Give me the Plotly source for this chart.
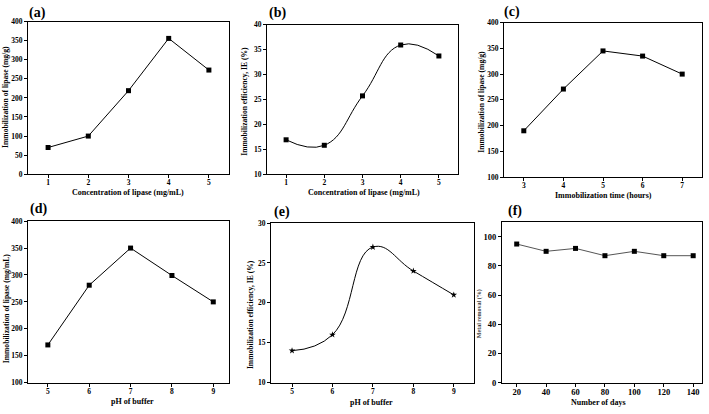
import plotly.graph_objects as go

# ---- data ----
a_x = [1, 2, 3, 4, 5]
a_y = [70, 100, 219, 356, 273]

b_x = [1, 2, 3, 4, 5]
b_y = [16.9, 15.8, 25.7, 35.9, 33.7]

c_x = [3, 4, 5, 6, 7]
c_y = [190, 271, 345, 335, 300]

d_x = [5, 6, 7, 8, 9]
d_y = [170, 281, 350, 299, 250]

e_x = [5, 6, 7, 8, 9]
e_y = [14, 16, 27, 24, 21]

f_x = [20, 40, 60, 80, 100, 120, 140]
f_y = [95, 90, 92, 87, 90, 87, 87]

W, H = 709, 414
FONT = "Liberation Serif"


def dx(p0, p1):
    return [p0 / W, p1 / W]


def dy(top, bottom):
    return [1 - bottom / H, 1 - top / H]


panels = [
    dict(x=a_x, y=a_y, shape="linear", sym="square", color="black",
         xd=(28, 229), yd=(18, 174), xr=[0.5, 5.5], xt=[1, 2, 3, 4, 5],
         yr=[0, 400], yt=list(range(0, 401, 50)),
         xtitle="Concentration of lipase (mg/mL)", ytitle="Immobilization of lipase (mg/g)",
         label="(a)", lab=(37, 9), xtp=(128, 193), ytp=(6, 95), fs=7.5),
    dict(x=b_x, y=b_y, shape="spline", sym="square", color="black",
         xd=(267, 458), yd=(21, 174), xr=[0.5, 5.5], xt=[1, 2, 3, 4, 5],
         yr=[10, 40], yt=list(range(10, 41, 5)),
         xtitle="Concentration of lipase (mg/mL)", ytitle="Immobilization efficiency, IE (%)",
         label="(b)", lab=(277, 9), xtp=(364, 193), ytp=(245, 100), fs=7.5),
    dict(x=c_x, y=c_y, shape="linear", sym="square", color="black",
         xd=(504, 702), yd=(19, 177), xr=[2.5, 7.5], xt=[3, 4, 5, 6, 7],
         yr=[100, 400], yt=list(range(100, 401, 50)),
         xtitle="Immobilization time (hours)", ytitle="Immobilization of lipase (mg/g)",
         label="(c)", lab=(512, 8), xtp=(603, 196), ytp=(482, 100), fs=7.5),
    dict(x=d_x, y=d_y, shape="linear", sym="square", color="black",
         xd=(28, 229), yd=(222, 387), xr=[4.52, 9.38], xt=[5, 6, 7, 8, 9],
         yr=[100, 400], yt=list(range(100, 401, 50)),
         xtitle="pH of buffer", ytitle="Immobilization of lipase (mg/mL)",
         label="(d)", lab=(38, 210), xtp=(132, 406), ytp=(6, 311), fs=7.5),
    dict(x=e_x, y=e_y, shape="spline", sym="star", color="black",
         xd=(271, 474), yd=(224, 387), xr=[4.48, 9.5], xt=[5, 6, 7, 8, 9],
         yr=[10, 30], yt=list(range(10, 31, 5)),
         xtitle="pH of buffer", ytitle="Immobilization efficiency, IE (%)",
         label="(e)", lab=(282, 213), xtp=(371, 407), ytp=(250, 318), fs=7.5),
    dict(x=f_x, y=f_y, shape="linear", sym="square", color="#555555",
         xd=(502, 702), yd=(223, 387), xr=[10, 146], xt=list(range(20, 141, 20)),
         yr=[0, 110], yt=list(range(0, 101, 20)),
         xtitle="Number of days", ytitle="Metal removal (%)",
         label="(f)", lab=(515, 212), xtp=(598, 407), ytp=(479, 316), fs=8.5),
]

fig = go.Figure()
annotations = []
layout = {}
for i, p in enumerate(panels, start=1):
    xa = "x" if i == 1 else f"x{i}"
    ya = "y" if i == 1 else f"y{i}"
    fig.add_trace(go.Scatter(
        x=p["x"], y=p["y"], xaxis=xa, yaxis=ya, mode="lines+markers",
        line=dict(color=p["color"], width=1, shape=p["shape"], smoothing=1.3),
        marker=dict(symbol=p["sym"], color="black", size=5),
        showlegend=False, cliponaxis=False,
    ))
    axcommon = dict(showline=True, linecolor="black", linewidth=1.2, mirror=True,
                    ticks="outside", ticklen=3, tickwidth=1, tickcolor="black",
                    showgrid=False, zeroline=False,
                    tickfont=dict(family=FONT, size=p["fs"], color="black", weight="bold"))
    layout["xaxis" if i == 1 else f"xaxis{i}"] = dict(
        domain=dx(*p["xd"]), range=p["xr"], tickvals=p["xt"],
        ticktext=[f"<b>{v}</b>" for v in p["xt"]], anchor=ya,
        ticklabelstandoff=-2, **axcommon)
    layout["yaxis" if i == 1 else f"yaxis{i}"] = dict(
        domain=dy(*p["yd"]), range=p["yr"], tickvals=p["yt"],
        ticktext=[f"<b>{v}</b>" for v in p["yt"]], anchor=xa, **axcommon)
    annotations.append(dict(text=f"<b>{p['label']}</b>", xref="paper", yref="paper",
                            x=p["lab"][0] / W, y=1 - p["lab"][1] / H, showarrow=False,
                            xanchor="center", yanchor="middle",
                            font=dict(family=FONT, size=14, color="black")))
    annotations.append(dict(text=f"<b>{p['xtitle']}</b>", xref="paper", yref="paper",
                            x=p["xtp"][0] / W, y=1 - p["xtp"][1] / H, showarrow=False,
                            xanchor="center", yanchor="middle",
                            font=dict(family=FONT, size=8, color="black")))
    is_f = (p["label"] == "(f)")
    annotations.append(dict(text=f"<b>{p['ytitle']}</b>", xref="paper", yref="paper",
                            x=p["ytp"][0] / W, y=1 - p["ytp"][1] / H, showarrow=False,
                            xanchor="center", yanchor="middle", textangle=-90,
                            font=dict(family=FONT, size=6 if is_f else 7.6,
                                      color="#444444" if is_f else "black")))

fig.update_layout(
    width=W, height=H, margin=dict(l=0, r=0, t=0, b=0),
    paper_bgcolor="white", plot_bgcolor="white",
    annotations=annotations, **layout,
)

fig.write_html("out.html", config={"displayModeBar": False},
               post_script="document.body.style.margin='0';document.body.style.padding='0';")
